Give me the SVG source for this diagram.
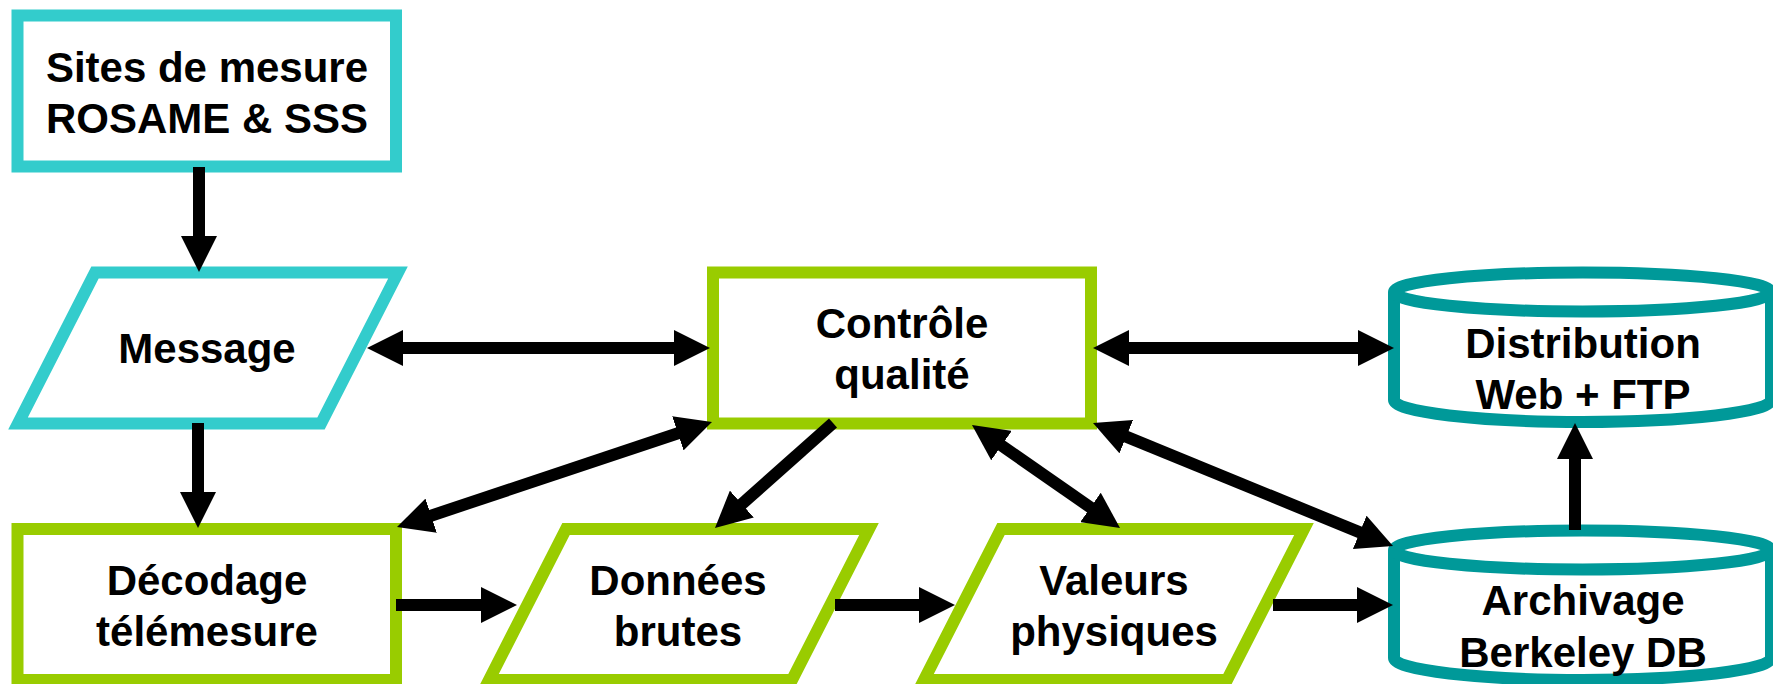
<svg xmlns="http://www.w3.org/2000/svg" width="1773" height="684" viewBox="0 0 1773 684">
<style>
.txt{font-family:"Liberation Sans",Arial,sans-serif;font-weight:bold;font-size:42px;fill:#000;text-anchor:middle}
.cyan{fill:#fff;stroke:#33CCCC;stroke-width:12;stroke-linejoin:miter}
.green{fill:#fff;stroke:#99CC00;stroke-width:12;stroke-linejoin:miter}
.teal{fill:#fff;stroke:#009999;stroke-width:12}
.con line{stroke:#000;stroke-width:12;fill:none}
</style>
<defs>
<marker id="ah" markerUnits="userSpaceOnUse" markerWidth="36" markerHeight="36" viewBox="0 0 36 36" refX="16" refY="18" orient="auto-start-reverse">
<path d="M0,0 L36,18 L0,36 Z" fill="#000"/>
</marker>
</defs>
<rect width="1773" height="684" fill="#fff"/>
<g id="sites">
<rect class="cyan" x="17.5" y="15.5" width="378.5" height="151"/>
<text class="txt" x="207" y="82">Sites de mesure</text>
<text class="txt" x="207" y="133">ROSAME &amp; SSS</text>
</g>
<g id="message">
<polygon class="cyan" points="95,272.5 398,272.5 321,423.5 18,423.5"/>
<text class="txt" x="207" y="363">Message</text>
</g>
<g id="controle">
<rect class="green" x="713" y="272.5" width="378" height="151"/>
<text class="txt" x="902" y="338">Contrôle</text>
<text class="txt" x="902" y="389">qualité</text>
</g>
<g id="distribution">
<path class="teal" d="M1394,292 L1394,400 A188.5,22 0 0 0 1771,400 L1771,292"/>
<ellipse class="teal" cx="1582.5" cy="292" rx="188.5" ry="19.5"/>
<text class="txt" x="1583" y="358">Distribution</text>
<text class="txt" x="1583" y="409">Web + FTP</text>
</g>
<g id="decodage">
<rect class="green" x="17.5" y="529" width="378.5" height="151"/>
<text class="txt" x="207" y="595">Décodage</text>
<text class="txt" x="207" y="646">télémesure</text>
</g>
<g id="donnees">
<polygon class="green" points="566,529 869,529 792,680 489,680"/>
<text class="txt" x="678" y="595">Données</text>
<text class="txt" x="678" y="646">brutes</text>
</g>
<g id="valeurs">
<polygon class="green" points="1001,529 1304,529 1227,680 924,680"/>
<text class="txt" x="1114" y="595">Valeurs</text>
<text class="txt" x="1114" y="646">physiques</text>
</g>
<g id="archivage">
<path class="teal" d="M1394,550 L1394,658 A188.5,22 0 0 0 1771,658 L1771,550"/>
<ellipse class="teal" cx="1582.5" cy="550" rx="188.5" ry="19.5"/>
<text class="txt" x="1583" y="615">Archivage</text>
<text class="txt" x="1583" y="667">Berkeley DB</text>
</g>
<g id="connectors" class="con">
<line x1="199" y1="167" x2="199" y2="252" marker-end="url(#ah)"/>
<line x1="198" y1="423" x2="198" y2="508" marker-end="url(#ah)"/>
<line x1="387" y1="348" x2="690" y2="348" marker-start="url(#ah)" marker-end="url(#ah)"/>
<line x1="1113" y1="348" x2="1374" y2="348" marker-start="url(#ah)" marker-end="url(#ah)"/>
<line x1="1575" y1="530" x2="1575" y2="443" marker-end="url(#ah)"/>
<line x1="396" y1="605" x2="497" y2="605" marker-end="url(#ah)"/>
<line x1="835" y1="605" x2="935" y2="605" marker-end="url(#ah)"/>
<line x1="1273" y1="605" x2="1373" y2="605" marker-end="url(#ah)"/>
<line x1="693" y1="428.3" x2="416" y2="520.7" marker-start="url(#ah)" marker-end="url(#ah)"/>
<line x1="833" y1="423" x2="729.9" y2="514.7" marker-end="url(#ah)"/>
<line x1="988.4" y1="436.4" x2="1103.6" y2="516.6" marker-start="url(#ah)" marker-end="url(#ah)"/>
<line x1="1111.5" y1="430.6" x2="1374.5" y2="538.4" marker-start="url(#ah)" marker-end="url(#ah)"/>
</g>
</svg>
